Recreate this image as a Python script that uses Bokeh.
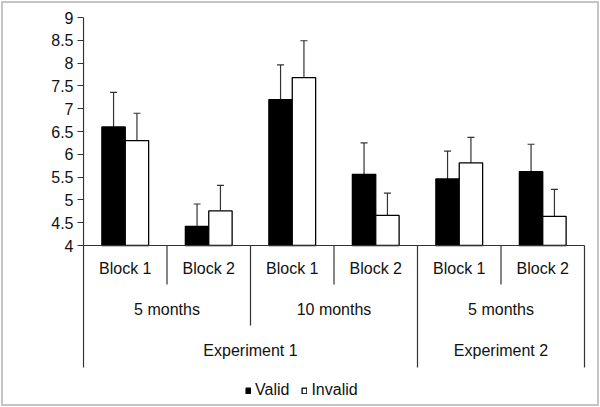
import math
from bokeh.plotting import figure
from bokeh.models import (Range1d, FixedTicker, Whisker, ColumnDataSource, Legend,
                          LegendItem, Label, TeeHead, InlineStyleSheet)
from bokeh.core.properties import value
from bokeh.embed import file_html
from bokeh.resources import INLINE

# ---------------- data ----------------
blocks = ["Block 1", "Block 2", "Block 1", "Block 2", "Block 1", "Block 2"]
ages = ["5 months", "10 months", "5 months"]
blocks_per_age = [2, 2, 2]
experiments = ["Experiment 1", "Experiment 2"]
ages_per_experiment = [2, 1]
valid = [6.6, 4.42, 7.2, 5.56, 5.46, 5.62]
invalid = [6.3, 4.76, 7.68, 4.66, 5.81, 4.64]
valid_err = [0.76, 0.49, 0.76, 0.69, 0.61, 0.60]
invalid_err = [0.60, 0.56, 0.81, 0.49, 0.56, 0.59]
y_ticks = [4, 4.5, 5, 5.5, 6, 6.5, 7, 7.5, 8, 8.5, 9]
y_tick_labels = ["4", "4.5", "5", "5.5", "6", "6.5", "7", "7.5", "8", "8.5", "9"]
series = ["Valid", "Invalid"]

FONT = "Liberation Sans"
BASE = 4
OFF = 0.14
BW = 0.28
LINE = "#333333"

n = len(blocks)
xc = [i + 0.5 for i in range(n)]

p = figure(width=600, height=407, output_backend="svg", toolbar_location=None,
           x_axis_location=None, x_range=Range1d(-0.012, 6.024), y_range=Range1d(0.601, 9),
           min_border_left=82, min_border_right=14, min_border_top=17, min_border_bottom=7)
p.outline_line_color = None
p.grid.visible = False
p.stylesheets = [InlineStyleSheet(css=(
    ":host { position: relative; }"
    ":host::after { content: ''; position: absolute; left: 1px; top: 1px; right: 1px; bottom: 1px;"
    " border: 2px solid #c4c4c4; pointer-events: none; z-index: 100; }"))]

src = ColumnDataSource(dict(
    xv=[x - OFF for x in xc], xi=[x + OFF for x in xc],
    valid=valid, invalid=invalid,
    vtop=[v + e for v, e in zip(valid, valid_err)],
    itop=[v + e for v, e in zip(invalid, invalid_err)],
))

rv = p.vbar(x="xv", top="valid", bottom=BASE, width=BW, source=src,
            fill_color="black", line_color="black", line_width=1.3)
ri = p.vbar(x="xi", top="invalid", bottom=BASE, width=BW, source=src,
            fill_color="white", line_color="black", line_width=1.3)

for xcol, lo, hi in (("xv", "valid", "vtop"), ("xi", "invalid", "itop")):
    w = Whisker(source=src, base=xcol, lower=lo, upper=hi,
                upper_head=TeeHead(size=7, line_color=LINE, line_width=1.2),
                lower_head=None, line_color=LINE, line_width=1.2)
    p.add_layout(w)

# separators / category axis
Y_BLOCK, Y_AGE, Y_EXP = 3.145, 2.246, 1.325
age_bounds = [0]
for k in blocks_per_age:
    age_bounds.append(age_bounds[-1] + k)
exp_bounds = [0]
for k in ages_per_experiment:
    exp_bounds.append(exp_bounds[-1] + k)
exp_block_bounds = [age_bounds[i] for i in exp_bounds]

sx, sy = [], []
for b in range(0, n + 1):
    if b in exp_block_bounds:
        y = Y_EXP
    elif b in age_bounds:
        y = Y_AGE
    else:
        y = Y_BLOCK
    sx.append(b)
    sy.append(y)
p.segment(x0=sx, y0=[BASE] * len(sx), x1=sx, y1=sy, line_color=LINE, line_width=1.2)
# horizontal category axis line and the y axis line
p.segment(x0=[0, 0], y0=[BASE, BASE], x1=[n, 0], y1=[BASE, y_ticks[-1]],
          line_color=LINE, line_width=1.2)

# labels
lx, ly, lt = [], [], []
for i, b in enumerate(blocks):
    lx.append(xc[i]); ly.append(3.496); lt.append(b)
for j, a in enumerate(ages):
    lx.append((age_bounds[j] + age_bounds[j + 1]) / 2); ly.append(2.596); lt.append(a)
for j, e in enumerate(experiments):
    lx.append((exp_block_bounds[j] + exp_block_bounds[j + 1]) / 2); ly.append(1.70); lt.append(e)
p.text(x=lx, y=ly, text=lt, text_align="center", text_baseline="middle",
       text_font=value(FONT), text_font_size="16px", text_color="#111111")

# y axis
p.yaxis.ticker = FixedTicker(ticks=y_ticks)
p.yaxis.major_label_overrides = {t: l for t, l in zip(y_ticks, y_tick_labels)}
p.yaxis.major_tick_in = 1
p.yaxis.major_tick_out = 5
p.yaxis.minor_tick_line_color = None
p.yaxis.axis_line_color = None
p.yaxis.major_tick_line_color = LINE
p.yaxis.major_tick_line_width = 1.2
p.yaxis.major_label_text_font = FONT
p.yaxis.major_label_text_font_size = "16px"
p.yaxis.major_label_text_color = "#111111"
p.yaxis.major_label_standoff = 4

p.add_layout(Label(x=0, y=6.5, x_offset=-53, text="Looking Time (in s)", angle=math.pi / 2,
                   text_align="center", text_baseline="middle", text_font=FONT,
                   text_font_size="16px", text_font_style="bold", text_color="#111111"))

legend = Legend(items=[LegendItem(label=series[0], renderers=[rv]),
                       LegendItem(label=series[1], renderers=[ri])],
                orientation="horizontal", location=(163, 1), glyph_width=6, glyph_height=7,
                label_standoff=4, spacing=12, padding=0, margin=0, border_line_color=None,
                background_fill_alpha=0, label_text_font=FONT, label_text_font_size="16px",
                label_height=17, label_text_color="#111111")
p.add_layout(legend)

open("out.html", "w").write(file_html(p, INLINE))
